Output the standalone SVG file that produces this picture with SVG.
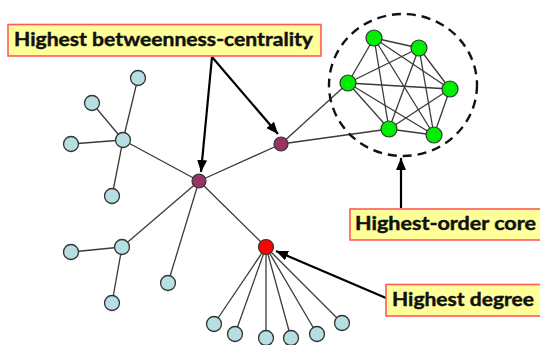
<svg xmlns="http://www.w3.org/2000/svg" width="540" height="345" viewBox="0 0 540 345">
  <style>
    .edge { stroke: #3a3a3a; stroke-width: 1.3; fill: none; }
    .leaf { fill: #b5dfe2; stroke: #333; stroke-width: 1.3; }
    .bridge { fill: #993366; stroke: #333; stroke-width: 1.2; }
    .hub { fill: #ff0000; stroke: #333; stroke-width: 1.2; }
    .core { fill: #00ee00; stroke: #333; stroke-width: 1.2; }
    .ring { fill: none; stroke: #111; stroke-width: 2.4; stroke-dasharray: 9 6; }
    .callout { stroke: #000; stroke-width: 2.2; fill: none; marker-end: url(#head); }
    .box { fill: #ffff99; stroke: #ff5a5a; stroke-width: 1.6; }
    .label { font-family: "Lato", "Liberation Sans", sans-serif; font-weight: bold; font-size: 19.5px; fill: #111; stroke: #111; stroke-width: 0.45; }
  </style>
  <defs>
    <marker id="head" viewBox="0 0 12 10" refX="12" refY="5" markerWidth="12" markerHeight="10" markerUnits="userSpaceOnUse" orient="auto">
      <path d="M0,0 L12,5 L0,10 Z" fill="#000"/>
    </marker>
  </defs>

  <!-- graph edges -->
  <g id="edges">
    <!-- upper-left star -->
    <line class="edge" x1="123" y1="140" x2="138" y2="78"/>
    <line class="edge" x1="123" y1="140" x2="92" y2="103"/>
    <line class="edge" x1="123" y1="140" x2="71" y2="144"/>
    <line class="edge" x1="123" y1="140" x2="112" y2="196"/>
    <line class="edge" x1="123" y1="140" x2="199" y2="181"/>
    <!-- lower-left star -->
    <line class="edge" x1="122" y1="247" x2="71" y2="252"/>
    <line class="edge" x1="122" y1="247" x2="112" y2="303"/>
    <line class="edge" x1="122" y1="247" x2="199" y2="181"/>
    <line class="edge" x1="168" y1="283" x2="199" y2="181"/>
    <!-- bridges -->
    <line class="edge" x1="199" y1="181" x2="281" y2="144"/>
    <line class="edge" x1="199" y1="181" x2="266" y2="247"/>
    <line class="edge" x1="281" y1="144" x2="348" y2="83"/>
    <line class="edge" x1="281" y1="144" x2="389" y2="129"/>
    <!-- high-degree fan -->
    <line class="edge" x1="266" y1="247" x2="214" y2="324"/>
    <line class="edge" x1="266" y1="247" x2="235" y2="334"/>
    <line class="edge" x1="266" y1="247" x2="266" y2="338"/>
    <line class="edge" x1="266" y1="247" x2="291" y2="338"/>
    <line class="edge" x1="266" y1="247" x2="317" y2="334"/>
    <line class="edge" x1="266" y1="247" x2="342" y2="323"/>
    <!-- core clique (K6) -->
    <line class="edge" x1="374" y1="38" x2="419" y2="48"/>
    <line class="edge" x1="374" y1="38" x2="348" y2="83"/>
    <line class="edge" x1="374" y1="38" x2="450" y2="89"/>
    <line class="edge" x1="374" y1="38" x2="389" y2="129"/>
    <line class="edge" x1="374" y1="38" x2="434" y2="135"/>
    <line class="edge" x1="419" y1="48" x2="348" y2="83"/>
    <line class="edge" x1="419" y1="48" x2="450" y2="89"/>
    <line class="edge" x1="419" y1="48" x2="389" y2="129"/>
    <line class="edge" x1="419" y1="48" x2="434" y2="135"/>
    <line class="edge" x1="348" y1="83" x2="450" y2="89"/>
    <line class="edge" x1="348" y1="83" x2="389" y2="129"/>
    <line class="edge" x1="348" y1="83" x2="434" y2="135"/>
    <line class="edge" x1="450" y1="89" x2="389" y2="129"/>
    <line class="edge" x1="450" y1="89" x2="434" y2="135"/>
    <line class="edge" x1="389" y1="129" x2="434" y2="135"/>
  </g>

  <!-- dashed boundary of the core -->
  <ellipse id="core-ring" class="ring" cx="403" cy="85" rx="74" ry="71"/>

  <!-- nodes -->
  <g id="leaf-a"><circle class="leaf" cx="138" cy="78" r="7.5"/></g>
  <g id="leaf-b"><circle class="leaf" cx="92" cy="103" r="7.5"/></g>
  <g id="leaf-c"><circle class="leaf" cx="71" cy="144" r="7.5"/></g>
  <g id="leaf-d"><circle class="leaf" cx="112" cy="196" r="7.5"/></g>
  <g id="star-a"><circle class="leaf" cx="123" cy="140" r="7.5"/></g>
  <g id="star-b"><circle class="leaf" cx="122" cy="247" r="7.5"/></g>
  <g id="leaf-e"><circle class="leaf" cx="71" cy="252" r="7.5"/></g>
  <g id="leaf-f"><circle class="leaf" cx="112" cy="303" r="7.5"/></g>
  <g id="leaf-g"><circle class="leaf" cx="168" cy="283" r="7.5"/></g>
  <g id="fan-1"><circle class="leaf" cx="214" cy="324" r="7.5"/></g>
  <g id="fan-2"><circle class="leaf" cx="235" cy="334" r="7.5"/></g>
  <g id="fan-3"><circle class="leaf" cx="266" cy="338" r="7.5"/></g>
  <g id="fan-4"><circle class="leaf" cx="291" cy="338" r="7.5"/></g>
  <g id="fan-5"><circle class="leaf" cx="317" cy="334" r="7.5"/></g>
  <g id="fan-6"><circle class="leaf" cx="342" cy="323" r="7.5"/></g>
  <g id="bridge-a"><circle class="bridge" cx="199" cy="181" r="7"/></g>
  <g id="bridge-b"><circle class="bridge" cx="281" cy="144" r="7"/></g>
  <g id="degree-hub"><circle class="hub" cx="266" cy="247" r="7.5"/></g>
  <g id="core-1"><circle class="core" cx="374" cy="38" r="8"/></g>
  <g id="core-2"><circle class="core" cx="419" cy="48" r="8"/></g>
  <g id="core-3"><circle class="core" cx="348" cy="83" r="8"/></g>
  <g id="core-4"><circle class="core" cx="450" cy="89" r="8"/></g>
  <g id="core-5"><circle class="core" cx="389" cy="129" r="8"/></g>
  <g id="core-6"><circle class="core" cx="434" cy="135" r="8"/></g>

  <!-- callout arrows -->
  <g id="callouts">
    <line class="callout" x1="212" y1="57" x2="201" y2="172"/>
    <line class="callout" x1="212" y1="57" x2="278" y2="134"/>
    <line class="callout" x1="401" y1="208" x2="401" y2="158"/>
    <line class="callout" x1="386" y1="298" x2="276" y2="251"/>
  </g>

  <!-- labels -->
  <g id="label-betweenness">
    <rect class="box" x="8" y="24.5" width="313" height="31.5"/>
    <text class="label" x="14" y="46" textLength="299" lengthAdjust="spacingAndGlyphs">Highest betweenness-centrality</text>
  </g>
  <g id="label-core">
    <rect class="box" x="350" y="209" width="200" height="31"/>
    <text class="label" x="355" y="230" textLength="181" lengthAdjust="spacingAndGlyphs">Highest-order core</text>
  </g>
  <g id="label-degree">
    <rect class="box" x="386" y="284.5" width="164" height="31.5"/>
    <text class="label" x="392" y="306" textLength="142" lengthAdjust="spacingAndGlyphs">Highest degree</text>
  </g>
</svg>
